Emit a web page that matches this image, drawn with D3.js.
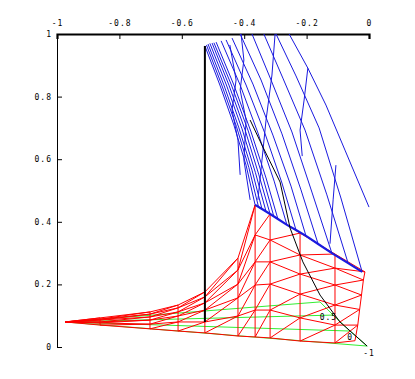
<!DOCTYPE html>
<html><head><meta charset="utf-8">
<script src="https://cdn.jsdelivr.net/npm/d3@7"></script>
<style>
html,body{margin:0;padding:0;background:#fff;}
svg text{font-family:"DejaVu Sans Mono",monospace;font-size:8px;fill:#000;}
</style></head><body>
<svg id="chart" width="415" height="379"></svg>
<script>
// ---- data ----
const xTicks = [-1, -0.8, -0.6, -0.4, -0.2, 0];
const xTickLabels = ["-1", "-0.8", "-0.6", "-0.4", "-0.2", "0"];
const yTicks = [0, 0.2, 0.4, 0.6, 0.8, 1];
const yTickLabels = ["0", "0.2", "0.4", "0.6", "0.8", "1"];

// blue surface: longitudinal mesh curves [x, y]
const blueCurves = [
  [[-0.526,0.962],[-0.478,0.837],[-0.433,0.709],[-0.394,0.581],[-0.365,0.454]],
  [[-0.521,0.965],[-0.472,0.837],[-0.425,0.705],[-0.385,0.573],[-0.354,0.447]],
  [[-0.516,0.968],[-0.465,0.837],[-0.417,0.700],[-0.375,0.565],[-0.343,0.441]],
  [[-0.510,0.970],[-0.457,0.837],[-0.407,0.697],[-0.364,0.557],[-0.330,0.433]],
  [[-0.503,0.971],[-0.449,0.837],[-0.397,0.693],[-0.353,0.550],[-0.317,0.425]],
  [[-0.497,0.972],[-0.441,0.837],[-0.387,0.690],[-0.341,0.545],[-0.305,0.417]],
  [[-0.490,0.974],[-0.433,0.837],[-0.378,0.687],[-0.330,0.540],[-0.292,0.409]],
  [[-0.474,0.978],[-0.413,0.837],[-0.356,0.684],[-0.304,0.530],[-0.263,0.390]],
  [[-0.458,0.981],[-0.394,0.837],[-0.333,0.681],[-0.279,0.524],[-0.234,0.374]],
  [[-0.439,0.987],[-0.372,0.840],[-0.308,0.677],[-0.250,0.514],[-0.202,0.355]],
  [[-0.413,1.000],[-0.346,0.853],[-0.279,0.681],[-0.218,0.502],[-0.163,0.329]],
  [[-0.375,1.000],[-0.314,0.853],[-0.247,0.687],[-0.183,0.495],[-0.119,0.300]],
  [[-0.337,1.000],[-0.276,0.859],[-0.205,0.693],[-0.135,0.486],[-0.067,0.268]],
  [[-0.298,1.000],[-0.234,0.866],[-0.160,0.700],[-0.090,0.476],[-0.022,0.240]],
  [[-0.256,1.000],[-0.196,0.891],[-0.138,0.773],[-0.077,0.629],[0.000,0.447]]
];
// blue zig-zag cross lines
const blueCross = [
  [[-0.301,1.000],[-0.311,0.869],[-0.330,0.725],[-0.343,0.597],[-0.356,0.470]],
  [[-0.196,0.891],[-0.208,0.789],[-0.221,0.693],[-0.214,0.610]],
  [[-0.410,1.000],[-0.401,0.917],[-0.413,0.821],[-0.394,0.725],[-0.401,0.597],[-0.381,0.470]],
  [[-0.106,0.581],[-0.115,0.470],[-0.125,0.330]],
  [[-0.446,0.965],[-0.426,0.853],[-0.439,0.757],[-0.420,0.661],[-0.413,0.550]]
];
// blue lower edge
const blueEdge = [[-0.365,0.454],[-0.343,0.441],[-0.317,0.425],[-0.292,0.409],[-0.263,0.390],
  [-0.234,0.374],[-0.202,0.355],[-0.163,0.329],[-0.119,0.300],[-0.067,0.268],[-0.022,0.240]];

// red surface grid: rows of [x, y] points (bottom row first)
const redRows = [
  [[-0.974,0.080],[-0.862,0.070],[-0.702,0.058],[-0.612,0.051],[-0.526,0.045],[-0.420,0.035],[-0.365,0.032],[-0.317,0.029],[-0.221,0.019],[-0.109,0.013],[-0.045,0.020]],
  [[-0.974,0.080],[-0.862,0.077],[-0.702,0.073],[-0.612,0.080],[-0.526,0.080],[-0.420,0.099],[-0.365,0.118],[-0.317,0.118],[-0.221,0.093],[-0.109,0.070],[-0.036,0.070]],
  [[-0.974,0.080],[-0.862,0.080],[-0.702,0.086],[-0.612,0.099],[-0.526,0.118],[-0.420,0.157],[-0.365,0.198],[-0.317,0.201],[-0.221,0.169],[-0.109,0.134],[-0.030,0.120]],
  [[-0.974,0.080],[-0.862,0.086],[-0.702,0.096],[-0.612,0.112],[-0.526,0.141],[-0.420,0.201],[-0.365,0.272],[-0.317,0.272],[-0.221,0.233],[-0.109,0.198],[-0.024,0.166]],
  [[-0.974,0.080],[-0.862,0.089],[-0.702,0.105],[-0.612,0.125],[-0.526,0.160],[-0.420,0.246],[-0.365,0.358],[-0.317,0.342],[-0.221,0.294],[-0.109,0.252],[-0.018,0.214]],
  [[-0.974,0.080],[-0.862,0.093],[-0.702,0.112],[-0.612,0.134],[-0.526,0.176],[-0.420,0.284],[-0.365,0.454],[-0.317,0.425],[-0.221,0.364],[-0.109,0.297],[-0.013,0.240]]
];

// green base: fan lines from the left tip, and the right edge
const greenTip = [-0.974,0.080];
const greenEnds = [[-0.157,0.144],[-0.115,0.102],[-0.061,0.051],[-0.006,0.003]];

// black lines
const blackVertical = [[-0.526,0.962],[-0.526,0.080]];
const blackAxis = [[-0.381,0.725],[-0.343,0.645],[-0.285,0.527],[-0.253,0.380],[-0.212,0.272],
  [-0.157,0.166],[-0.093,0.080],[-0.006,0.003]];
const axisLabels = [{t:"0.5", p:[-0.130,0.085]},{t:"0",p:[-0.060,0.022]},{t:"-1",p:[0.0,-0.030]}];

// ---- drawing ----
const svg = d3.select("#chart");
const x = d3.scaleLinear().domain([-1,0]).range([57,369]);
const y = d3.scaleLinear().domain([0,1]).range([347,34]);
const line = d3.line().x(d=>x(d[0])).y(d=>y(d[1]));

// axes
const minorX = d3.range(-1, 0.0001, 0.05);
const minorY = d3.range(0, 1.0001, 0.05);
const gx = svg.append("g").attr("transform","translate(0,34)");
gx.call(d3.axisTop(x).tickValues(minorX).tickSize(-3).tickFormat(""));
gx.call(d3.axisTop(x).tickValues(xTicks).tickSize(-5).tickPadding(8)
  .tickFormat((d,i)=>xTickLabels[i]));
gx.select(".domain").attr("stroke-width",2.2);
const gy = svg.append("g").attr("transform","translate(57,0)");
gy.call(d3.axisLeft(y).tickValues(minorY).tickSize(-3).tickFormat(""));
gy.call(d3.axisLeft(y).tickValues(yTicks).tickSize(-5).tickPadding(5)
  .tickFormat((d,i)=>yTickLabels[i]));
svg.selectAll(".tick text").style("font-family","DejaVu Sans Mono").style("font-size","8px")
  .style("letter-spacing","1px");
svg.selectAll(".domain").attr("stroke","#000");

const plot = svg.append("g").attr("fill","none");

// green
const green = plot.append("g").attr("stroke","#33ee33").attr("stroke-width",1);
greenEnds.forEach(e=>green.append("path").attr("d", line([greenTip, e])));
green.append("path").attr("d", line(greenEnds));

// red
const red = plot.append("g").attr("stroke","#ff0000").attr("stroke-width",1);
redRows.forEach(row=>red.append("path").attr("d", line(row)));
redRows[0].forEach((_,i)=>red.append("path").attr("d", line(redRows.map(r=>r[i]))));
for(let r=0;r<redRows.length-1;r++){
  for(let c=0;c<redRows[r].length-1;c++){
    red.append("path").attr("d", line([redRows[r][c], redRows[r+1][c+1]]));
  }
}

// blue
const blue = plot.append("g").attr("stroke","#1a1ae0").attr("stroke-width",1);
blueCurves.forEach(c=>blue.append("path").attr("d", line(c)));
blueCross.forEach(c=>blue.append("path").attr("d", line(c)));
blue.append("path").attr("d", line(blueEdge)).attr("stroke-width",2.2);

// black
const black = plot.append("g").attr("stroke","#000");
black.append("path").attr("d", line(blackVertical)).attr("stroke-width",2);
black.append("path").attr("d", line(blackAxis)).attr("stroke-width",1);
svg.selectAll(".axlab").data(axisLabels).enter().append("text").attr("class","axlab")
  .attr("x",d=>x(d.p[0])).attr("y",d=>y(d.p[1])).attr("text-anchor","middle")
  .style("letter-spacing","1px").text(d=>d.t);
</script>
</body></html>
